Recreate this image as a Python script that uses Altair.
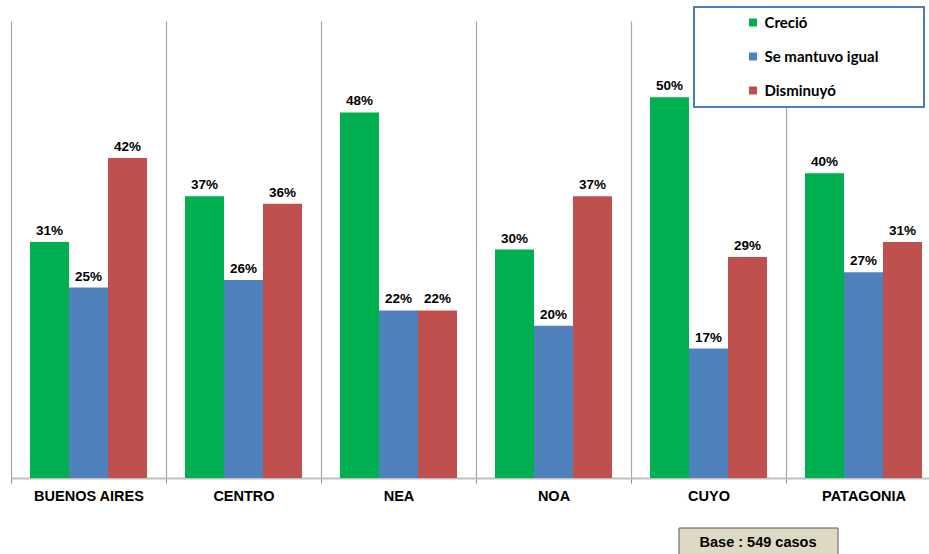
import altair as alt
import pandas as pd

# Regions and the share of answers per option (%)
regiones = ["BUENOS AIRES", "CENTRO", "NEA", "NOA", "CUYO", "PATAGONIA"]
opciones = ["Creció", "Se mantuvo igual", "Disminuyó"]
crecio = [31, 37, 48, 30, 50, 40]
se_mantuvo = [25, 26, 22, 20, 17, 27]
disminuyo = [42, 36, 22, 37, 29, 31]
colores = ["#00B050", "#4F81BD", "#C0504D"]
nota_base = ["Base : 549 casos"]

rows = []
for serie, valores in zip(opciones, [crecio, se_mantuvo, disminuyo]):
    for region, v in zip(regiones, valores):
        rows.append({"region": region, "opcion": serie, "valor": v, "etiqueta": f"{v}%"})
df = pd.DataFrame(rows)

W, H = 918, 457

x_enc = alt.X(
    "region:N",
    sort=regiones,
    scale=alt.Scale(range=[0, 930], paddingInner=0, paddingOuter=0),
    axis=alt.Axis(
        title=None,
        labelAngle=0,
        labelFont="Liberation Sans",
        labelFontWeight="bold",
        labelFontSize=14.5,
        labelColor="#000000",
        labelPadding=6,
        tickBand="extent",
        tickSize=5,
        tickColor="#8C8C8C",
        domainColor="#BFBFBF",
        domainWidth=2,
        grid=True,
        gridColor="#A6A6A6",
        gridWidth=1.2,
    ),
)
xoff_enc = alt.XOffset(
    "opcion:N", sort=opciones, scale=alt.Scale(paddingInner=0, paddingOuter=0.487)
)
y_enc = alt.Y("valor:Q", scale=alt.Scale(domain=[0, 60]), axis=None)

base = alt.Chart(df).encode(x=x_enc, xOffset=xoff_enc, y=y_enc)

bars = base.mark_bar().encode(
    color=alt.Color(
        "opcion:N",
        sort=opciones,
        scale=alt.Scale(domain=opciones, range=colores),
        legend=alt.Legend(
            orient="none",
            legendX=683,
            legendY=-14,
            title="\u00a0",
            titleOrient="right",
            titlePadding=37.5,
            symbolType="square",
            symbolSize=64,
            symbolStrokeWidth=0,
            symbolOffset=43.5,
            labelOffset=4,
            labelFont="Lato",
            labelFontWeight="bold",
            labelFontSize=15,
            labelColor="#000000",
            rowPadding=18,
            padding=8,
            fillColor="#FFFFFF",
            strokeColor="#4A7EBB",
        ),
    )
)

labels = base.mark_text(
    align="center",
    baseline="alphabetic",
    dy=-7,
    font="Liberation Sans",
    fontWeight="bold",
    fontSize=13.5,
    color="#000000",
).encode(text="etiqueta:N")

# Sample size note below the axis
nota_df = pd.DataFrame({"nota": nota_base})
nota_box = alt.Chart(nota_df).mark_rect(
    fill="#DDD9C3", stroke="#595959", strokeWidth=1
).encode(x=alt.value(668), x2=alt.value(827), y=alt.value(507), y2=alt.value(545))
nota_text = alt.Chart(nota_df).mark_text(
    font="Liberation Sans", fontWeight="bold", fontSize=14.5, color="#000000",
    align="center", baseline="middle",
).encode(x=alt.value(747), y=alt.value(522), text="nota:N")

chart = (
    alt.layer(bars, labels, nota_box, nota_text)
    .properties(
        width=W,
        height=H,
        autosize=alt.AutoSizeParams(type="none"),
        padding={"left": 11, "top": 21, "right": 0, "bottom": 76},
    )
    .configure_view(stroke=None)
    .configure_legend(strokeWidth=2)
)

chart.save("out.html", embed_options={"renderer": "svg", "actions": False})
